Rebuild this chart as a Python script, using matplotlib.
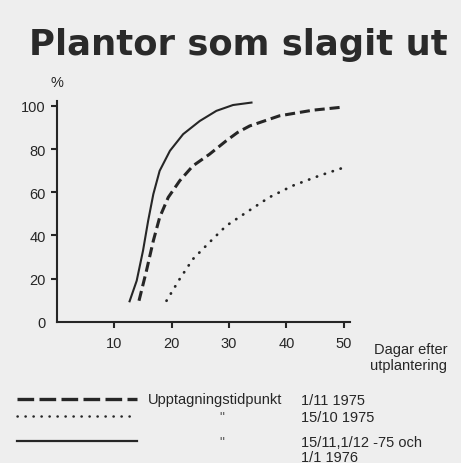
import matplotlib
matplotlib.use("Agg")
import matplotlib.pyplot as plt
from matplotlib.lines import Line2D

plt.rcParams['font.family'] = ['Liberation Sans', 'DejaVu Sans']

title = "Plantor som slagit ut"
x_ticks = [10, 20, 30, 40, 50]
y_ticks = [0, 20, 40, 60, 80, 100]

# Series (days after planting, % plants leafed out)
solid_days = [12.6, 13.9, 15.0, 15.9, 16.8, 17.9, 19.7, 22.0, 24.9, 27.8, 30.7, 34.1]
solid_pct = [9.0, 19.0, 32.9, 46.8, 59.1, 69.9, 79.2, 86.9, 93.0, 97.7, 100.4, 101.6]

dashed_days = [14.3, 15.6, 16.8, 17.9, 19.4, 21.4, 23.7, 26.6, 29.5, 31.5, 33.6, 38.8, 44.6, 50.1]
dashed_pct = [9.7, 23.6, 37.5, 48.3, 57.6, 65.3, 72.2, 77.6, 83.8, 87.7, 90.7, 95.4, 98.0, 99.5]

dotted_days = [19.1, 21.4, 23.7, 26.6, 29.5, 33.0, 37.0, 41.1, 45.7, 50.1]
dotted_pct = [9.7, 19.8, 29.0, 36.8, 44.4, 50.6, 57.6, 63.0, 67.6, 71.5]

legend_dates = ["1/11 1975", "15/10 1975", "15/11,1/12 -75 och\n1/1 1976"]

ink = '#262626'
bg = '#eeeeee'

fig = plt.figure(figsize=(4.61, 4.64), dpi=100, facecolor=bg)
ax = fig.add_axes([57/461, 1-322.7/464, (350-57)/461, (322.7-101.7)/464])
ax.set_facecolor(bg)

solid_style = dict(lw=1.5, solid_capstyle='butt')
dashed_style = dict(lw=2.2, dashes=(3.3, 1.6))
dotted_style = dict(lw=2.0, dashes=(0.1, 2.9), dash_capstyle='round')

ax.plot(solid_days, solid_pct, color=ink, clip_on=False, **solid_style)
ax.plot(dashed_days, dashed_pct, color=ink, clip_on=False, **dashed_style)
ax.plot(dotted_days, dotted_pct, color=ink, clip_on=False, **dotted_style)

ax.set_xlim(0, 51.1)
ax.set_ylim(0, 102.4)
ax.set_xticks(x_ticks)
ax.set_yticks(y_ticks)
ax.set_yticklabels([str(v) for v in y_ticks])
ax.set_xticklabels([str(v) for v in x_ticks])
for s in ['top', 'right']:
    ax.spines[s].set_visible(False)
for s in ['left', 'bottom']:
    ax.spines[s].set_color(ink)
    ax.spines[s].set_linewidth(1.5)
ax.tick_params(axis='both', colors=ink, labelsize=10.5, width=1.5, length=4, pad=4)
ax.tick_params(axis='x', pad=6)
ax.yaxis.get_major_ticks()[0].tick1line.set_visible(False)

fig.text(29/461, 1-45/464, title, fontsize=25.5, fontweight='bold', color='#2a2a2a',
         va='center', ha='left', family='DejaVu Sans')
fig.text(50/461, 1-83/464, "%", fontsize=10.5, color=ink, va='center', ha='left')
fig.text(447/461, 1-343/464, "Dagar efter\nutplantering", fontsize=10.5, color=ink,
         va='top', ha='right', linespacing=1.15)

# legend
rows_y = [400, 417, 442]
leg_styles = [dict(lw=2.4, dashes=(5.0, 1.6)),
              dict(lw=1.8, dashes=(0.1, 3.1), dash_capstyle='round'),
              dict(lw=1.6)]
for y, st in zip(rows_y, leg_styles):
    fig.add_artist(Line2D([17/461, 137/461], [1-y/464, 1-y/464], color=ink,
                          transform=fig.transFigure, **st))
fig.text(148/461, 1-rows_y[0]/464, "Upptagningstidpunkt", fontsize=10.5, color=ink,
         va='center', ha='left')
for y in rows_y[1:]:
    fig.text(222/461, 1-(y+1)/464, '"', fontsize=10, color='#555555', va='center', ha='center')
for y, d in zip(rows_y, legend_dates):
    fig.text(301/461, 1-y/464 + 0.013, d, fontsize=10.5, color=ink, va='top', ha='left',
             linespacing=1.05)

fig.savefig("out.png", dpi=100, facecolor=bg)
